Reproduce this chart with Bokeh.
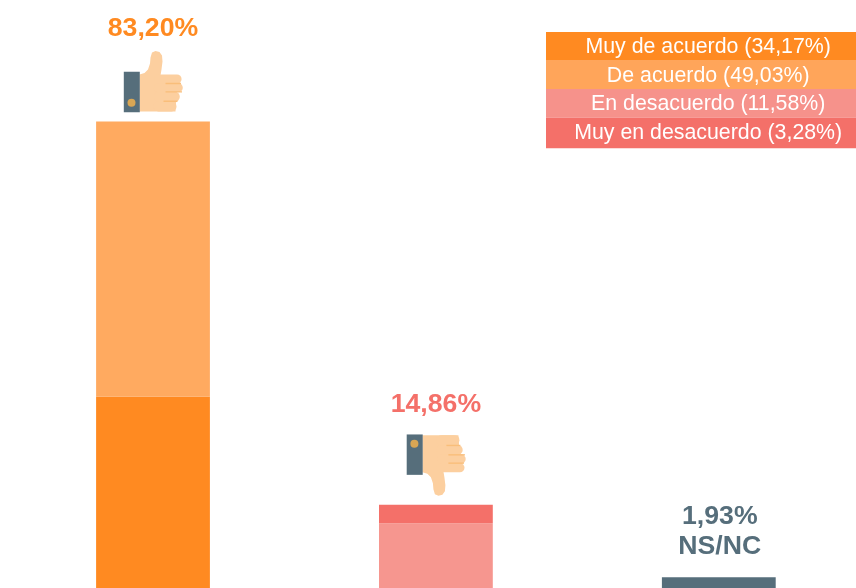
from bokeh.plotting import figure
from bokeh.models import Range1d, ColumnDataSource
from bokeh.core.properties import value
from bokeh.embed import file_html
from bokeh.resources import INLINE

# ---- data ----
groups = ["De acuerdo", "En desacuerdo", "NS/NC"]
muy_de_acuerdo = 34.17
de_acuerdo = 49.03
en_desacuerdo = 11.58
muy_en_desacuerdo = 3.28
ns_nc = 1.93
totals = ["83,20%", "14,86%", "1,93%"]
legend_labels = ["Muy de acuerdo (34,17%)", "De acuerdo (49,03%)",
                 "En desacuerdo (11,58%)", "Muy en desacuerdo (3,28%)"]

ORANGE, LIGHT, PINK, CORAL, SLATE = "#FF8A21", "#FFAA60", "#F6968F", "#F47069", "#566E7B"
legend_colors = [ORANGE, "#FFA55A", "#F6928B", CORAL]
HAND, CREASE, BUTTON = "#FCCF9F", "#F9BE7A", "#D9A654"

W, H = 856, 588
PX_X = 282.9            # pixels per category step
PX_Y = 5.609            # pixels per percentage point
x0 = -152.5 / PX_X
y0 = -0.3 / PX_Y
p = figure(width=W, height=H, output_backend="svg", toolbar_location=None,
           x_range=Range1d(x0, x0 + W / PX_X), y_range=Range1d(y0, y0 + H / PX_Y),
           min_border=0, outline_line_color=None, background_fill_color=None,
           border_fill_color=None)
p.axis.visible = False
p.grid.visible = False
p.styles = {"position": "fixed", "left": "0px", "top": "0px"}

BAR_W = 113.8 / PX_X
bars = ColumnDataSource(dict(
    x=[0, 0, 1, 1, 2],
    bottom=[0, muy_de_acuerdo, 0, en_desacuerdo, 0],
    top=[muy_de_acuerdo, muy_de_acuerdo + de_acuerdo, en_desacuerdo,
         en_desacuerdo + muy_en_desacuerdo, ns_nc],
    color=[ORANGE, LIGHT, PINK, CORAL, SLATE]))
p.vbar(x="x", bottom="bottom", top="top", width=BAR_W, fill_color="color", line_color=None, source=bars)


def hand(cx, top, flip):
    """Draw the thumb icon; dx, up are pixel offsets from the bar's top centre."""
    dxo = 0.5

    def X(dx):
        return cx + (dx + dxo) / PX_X

    def Y(up):
        return top + ((79.7 - up) if flip else up) / PX_Y

    thumb = [(-14, 10), (-14, 47), (-9, 48.5), (-5.5, 52), (-3.5, 58), (-3, 64), (-1.5, 69),
             (2, 70.5), (6, 69.5), (8.5, 66), (9, 60), (8, 52), (7, 46), (16, 46), (24, 40),
             (22, 10)]
    p.patch([X(a) for a, _ in thumb], [Y(b) for _, b in thumb], fill_color=HAND, line_color=None)
    fingers = [(42.5, 23.5, 9.2), (33.8, 24.7, 9.2), (24.8, 21.5, 9.6), (15, 18, 10)]
    for up, end, w in fingers:
        p.line([X(5), X(end)], [Y(up), Y(up)], line_color=HAND, line_width=w, line_cap="round")
    creases = [(38, 12, 27.5), (29.7, 12, 28.5), (20.3, 10, 24)]
    for up, a, b in creases:
        p.line([X(a), X(b)], [Y(up), Y(up)], line_color=CREASE, line_width=1.4)
    cuff = [(-29.7, 9.3), (-13.7, 9.3), (-13.7, 49.7), (-29.7, 49.7)]
    p.patch([X(a) for a, _ in cuff], [Y(b) for _, b in cuff], fill_color=SLATE, line_color=None)
    p.scatter([X(-22)], [Y(18.7)], size=8, fill_color=BUTTON, line_color=None)


hand(0, muy_de_acuerdo + de_acuerdo, False)
hand(1, en_desacuerdo + muy_en_desacuerdo, True)

FONT = value("Liberation Sans")
labels = ColumnDataSource(dict(
    x=[0, 1, 2, 2],
    y=[muy_de_acuerdo + de_acuerdo, en_desacuerdo + muy_en_desacuerdo, ns_nc, ns_nc],
    text=[totals[0], totals[1], totals[2], groups[2]],
    off=[-95, -102, -62, -32],
    xoff=[0, 0, 1, 1],
    color=[ORANGE, CORAL, SLATE, SLATE]))
p.text(x="x", y="y", text="text", x_offset="xoff", y_offset="off", text_color="color", text_font=FONT,
       text_font_size="26.67px", text_font_style="bold", text_align="center",
       text_baseline="alphabetic", source=labels)

# legend panel, positioned in pixels
edges = [31.5, 59.5, 88.5, 117.2, 147.8]
text_centres = [45.65, 74.15, 102.85, 131.2]
LX0 = x0 + 545.5 / PX_X
LX1 = x0 + 857 / PX_X
LXC = x0 + 707.7 / PX_X


def py(v):
    return y0 + (H - v) / PX_Y


p.quad(left=[LX0] * 4, right=[LX1] * 4, top=[py(e) for e in edges[:-1]],
       bottom=[py(e) for e in edges[1:]], fill_color=legend_colors, line_color=None)
p.text(x=[LXC] * 4, y=[py(c) for c in text_centres],
       text=legend_labels, text_color="#FFFFFF", text_font=FONT, text_font_size="21.33px",
       text_align="center", text_baseline="middle")

open("out.html", "w").write(file_html(p, INLINE))
